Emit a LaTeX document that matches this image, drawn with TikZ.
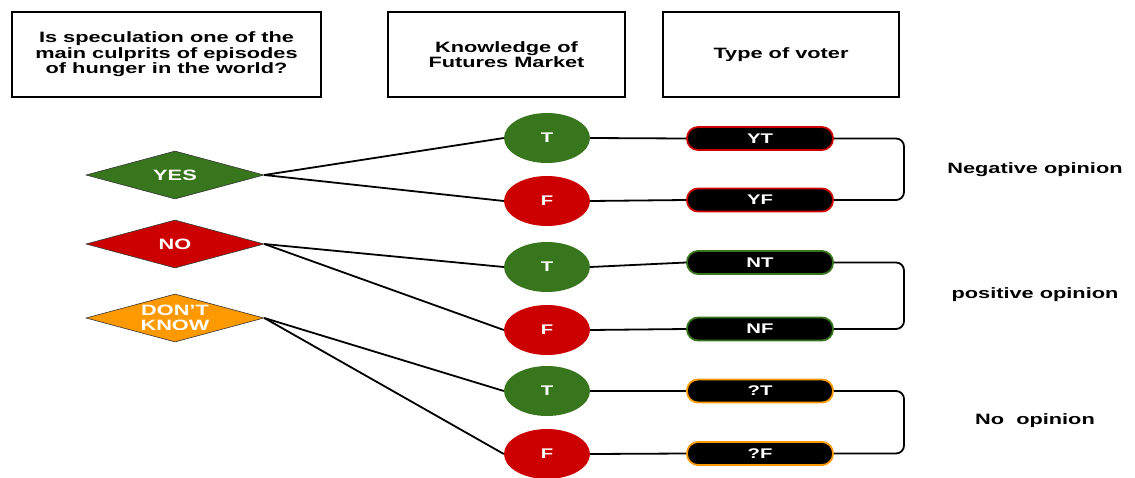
\documentclass[tikz,border=0pt]{standalone}
\usepackage{fontspec}
\setmainfont{Liberation Sans}[FakeStretch=1.45]
\usetikzlibrary{shapes.geometric}
\definecolor{cgreen}{HTML}{38761D}
\definecolor{cred}{HTML}{CC0000}
\definecolor{corange}{HTML}{FF9900}
\begin{document}
\begin{tikzpicture}[x=1pt,y=-1pt,
  header/.style={draw=black,line width=2pt,minimum width=#1,minimum height=85pt,inner sep=0pt,align=center,font=\bfseries\fontsize{15}{15.6}\selectfont},
  answer/.style={diamond,fill=#1,draw=black!80,line width=0.6pt,minimum width=178pt,minimum height=48pt,aspect=3.7,inner sep=0pt},
  anstext/.style={text=white,align=center,font=\bfseries\fontsize{15}{15.6}\selectfont},
  know/.style={ellipse,fill=#1,minimum width=86pt,minimum height=50pt,inner sep=0pt,text=white,font=\bfseries\fontsize{14}{15}\selectfont},
  voter/.style={rectangle,rounded corners=11pt,fill=black,draw=#1,line width=1.8pt,minimum width=146pt,minimum height=23pt,inner sep=0pt,text=white,font=\bfseries\fontsize{14}{15}\selectfont},
  opinion/.style={font=\bfseries\fontsize{15}{16}\selectfont},
  conn/.style={draw=black,line width=1.8pt},
  brk/.style={draw=black,line width=1.8pt,rounded corners=8pt}]
\useasboundingbox (0,0) rectangle (1135,477);
% headers
\node[header=309pt] (h1) at (166.5,54.5) {Is speculation one of the\\main culprits of episodes\\of hunger in the world?};
\node[header=237pt] (h2) at (506.5,54.5) {Knowledge of\\Futures Market};
\node[header=236pt] (h3) at (781,54.5) {Type of voter};
% answers
\node[answer=cgreen] (yes) at (175,175) {};
\node[anstext] at (yes) {YES};
\node[answer=cred] (no) at (175,244) {};
\node[anstext] at (no) {NO};
\node[answer=corange] (dk) at (175,318) {};
\node[anstext] at (dk) {DON'T\\KNOW};
% knowledge
\node[know=cgreen] (t1) at (547,138) {T};
\node[know=cred] (f1) at (547,201) {F};
\node[know=cgreen] (t2) at (547,267) {T};
\node[know=cred] (f2) at (547,330) {F};
\node[know=cgreen] (t3) at (547,391) {T};
\node[know=cred] (f3) at (547,454) {F};
% voters
\node[voter=cred] (yt) at (760,138.5) {YT};
\node[voter=cred] (yf) at (760,200) {YF};
\node[voter=cgreen] (nt) at (760,262.5) {NT};
\node[voter=cgreen] (nf) at (760,329) {NF};
\node[voter=corange] (qt) at (760,391) {?T};
\node[voter=corange] (qf) at (760,453.5) {?F};
% opinions
\node[opinion] (neg) at (1035,170) {Negative opinion};
\node[opinion] (pos) at (1035,295) {positive opinion};
\node[opinion] (non) at (1035,421) {No\ \ opinion};
% connectors
\coordinate (bx) at (904,0);
\draw[conn] (yes.east) -- (t1.west);
\draw[conn] (yes.east) -- (f1.west);
\draw[conn] (no.east) -- (t2.west);
\draw[conn] (no.east) -- (f2.west);
\draw[conn] (dk.east) -- (t3.west);
\draw[conn] (dk.east) -- (f3.west);
\draw[conn] (t1.east) -- (yt.west);
\draw[conn] (f1.east) -- (yf.west);
\draw[conn] (t2.east) -- (nt.west);
\draw[conn] (f2.east) -- (nf.west);
\draw[conn] (t3.east) -- (qt.west);
\draw[conn] (f3.east) -- (qf.west);
\draw[brk] (yt.east) -- (yt.east -| bx) |- (yf.east);
\draw[brk] (nt.east) -- (nt.east -| bx) |- (nf.east);
\draw[brk] (qt.east) -- (qt.east -| bx) |- (qf.east);
\end{tikzpicture}
\end{document}
